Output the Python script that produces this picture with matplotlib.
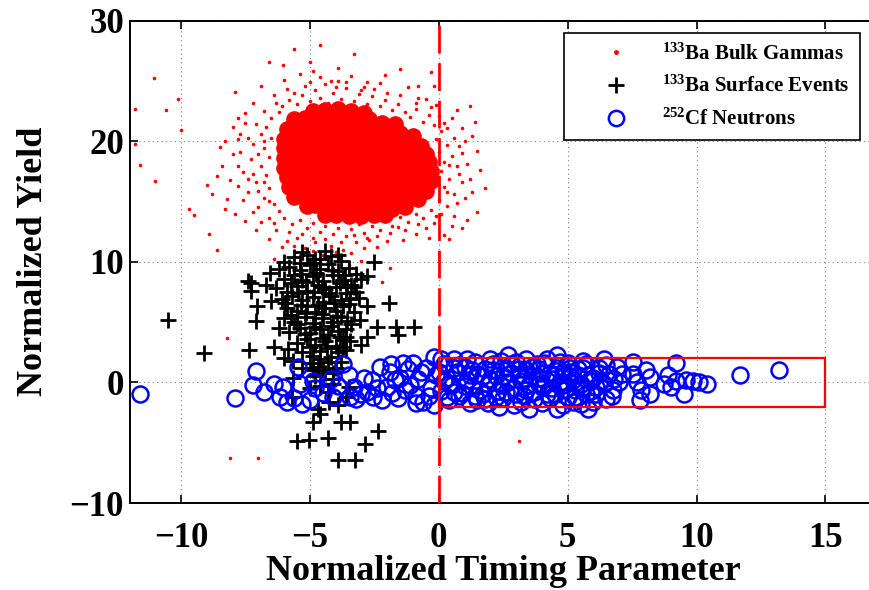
#! /usr/bin/env python3
#
# Pulse-shape discrimination scatter: normalized yield vs timing parameter

import matplotlib

matplotlib.use("Agg")
import matplotlib.pyplot as plt
from matplotlib.lines import Line2D
from matplotlib.patches import Rectangle

# 133Ba bulk gammas: dense core of the cloud (drawn with fat dots so it reads solid)
gamma_core = [
    (-4.9, 22.5), (-4.4, 22.6), (-3.9, 22.7), (-3.4, 22.5), (-2.9, 22.3),
    (-5.6, 21.8), (-5.2, 21.9), (-4.7, 21.7), (-4.2, 21.9), (-3.7, 21.8), (-3.2, 21.6),
    (-2.7, 21.8), (-2.2, 21.5), (-1.7, 21.4),
    (-5.9, 21.0), (-5.5, 21.1), (-5.0, 20.9), (-4.5, 21.0), (-4.0, 21.1), (-3.5, 20.9),
    (-3.0, 21.0), (-2.5, 20.8), (-2.0, 20.9), (-1.5, 20.7), (-1.0, 20.4),
    (-6.0, 20.2), (-5.7, 20.3), (-5.2, 20.1), (-4.7, 20.2), (-4.2, 20.3), (-3.7, 20.1),
    (-3.2, 20.2), (-2.7, 20.0), (-2.2, 20.1), (-1.7, 19.9), (-1.2, 20.0), (-0.7, 19.6),
    (-6.0, 19.4), (-5.8, 19.5), (-5.3, 19.3), (-4.8, 19.4), (-4.3, 19.5), (-3.8, 19.3),
    (-3.3, 19.4), (-2.8, 19.2), (-2.3, 19.3), (-1.8, 19.1), (-1.3, 19.2), (-0.8, 19.0),
    (-0.5, 18.9),
    (-6.0, 18.6), (-5.8, 18.7), (-5.3, 18.5), (-4.8, 18.6), (-4.3, 18.7), (-3.8, 18.5),
    (-3.3, 18.6), (-2.8, 18.4), (-2.3, 18.5), (-1.8, 18.3), (-1.3, 18.4), (-0.8, 18.2),
    (-0.4, 18.3),
    (-6.0, 17.8), (-5.7, 17.9), (-5.2, 17.7), (-4.7, 17.8), (-4.2, 17.9), (-3.7, 17.7),
    (-3.2, 17.8), (-2.7, 17.6), (-2.2, 17.7), (-1.7, 17.5), (-1.2, 17.6), (-0.7, 17.4),
    (-0.3, 17.5),
    (-5.9, 17.0), (-5.6, 17.1), (-5.1, 16.9), (-4.6, 17.0), (-4.1, 17.1), (-3.6, 16.9),
    (-3.1, 17.0), (-2.6, 16.8), (-2.1, 16.9), (-1.6, 16.7), (-1.1, 16.8), (-0.6, 16.6),
    (-0.3, 16.7),
    (-5.8, 16.2), (-5.5, 16.3), (-5.0, 16.1), (-4.5, 16.2), (-4.0, 16.3), (-3.5, 16.1),
    (-3.0, 16.2), (-2.5, 16.0), (-2.0, 16.1), (-1.5, 15.9), (-1.0, 16.0), (-0.5, 15.9),
    (-5.6, 15.4), (-5.3, 15.5), (-4.8, 15.3), (-4.3, 15.4), (-3.8, 15.5), (-3.3, 15.3),
    (-2.8, 15.4), (-2.3, 15.2), (-1.8, 15.3), (-1.3, 15.1), (-0.8, 15.2),
    (-5.1, 14.6), (-4.8, 14.7), (-4.3, 14.5), (-3.8, 14.6), (-3.3, 14.7), (-2.8, 14.5),
    (-2.3, 14.6), (-1.8, 14.4), (-1.3, 14.5),
    (-4.4, 13.9), (-4.0, 13.9), (-3.5, 13.8), (-3.0, 13.8), (-2.5, 13.9), (-2.1, 13.9),
]

# 133Ba bulk gammas: sparser halo and outliers around the core
gamma_halo = [
    (-6.1, 22.9), (-5.8, 23.4), (-5.5, 23.1), (-5.3, 23.8), (-5.0, 23.3), (-4.8, 24.2),
    (-4.6, 23.6), (-4.3, 23.2), (-4.1, 24.0), (-3.8, 23.5), (-3.6, 24.4), (-3.3, 23.3),
    (-3.1, 23.9), (-2.8, 23.1), (-2.6, 23.7), (-2.3, 22.9), (-2.1, 23.4), (-1.8, 22.6),
    (-1.6, 23.1), (-1.3, 22.4), (-1.1, 22.0), (-0.9, 22.7), (-0.6, 21.6), (-0.4, 22.2),
    (-5.2, 24.6), (-4.4, 24.7), (-3.9, 25.0), (-2.9, 24.5), (-6.4, 23.8), (-5.9, 24.3),
    (-6.5, 21.9), (-6.7, 21.2), (-6.9, 20.6), (-6.5, 20.3), (-7.2, 19.8), (-6.8, 19.4),
    (-6.6, 18.7), (-7.3, 18.5), (-6.9, 17.9), (-7.6, 17.4), (-6.7, 17.2), (-7.1, 16.6),
    (-6.6, 16.1), (-7.4, 15.8), (-6.8, 15.3), (-6.4, 14.8), (-7.0, 14.5), (-6.2, 14.2),
    (-7.8, 16.3), (-8.0, 18.9), (-7.7, 20.6), (-7.5, 21.5), (-8.2, 15.2), (-7.9, 14.0),
    (-6.0, 13.6), (-5.7, 13.1), (-5.4, 13.5), (-5.1, 12.8), (-4.9, 13.2), (-4.6, 12.5),
    (-4.4, 13.0), (-4.1, 12.3), (-3.9, 12.8), (-3.6, 12.1), (-3.4, 12.7), (-3.1, 13.1),
    (-2.9, 12.4), (-2.6, 13.0), (-2.3, 12.6), (-2.1, 13.4), (-1.8, 13.0), (-1.5, 13.7),
    (-1.2, 13.3), (-0.9, 14.0), (-0.6, 13.6), (-5.5, 12.0), (-4.8, 11.6), (-4.2, 11.3),
    (-3.7, 11.0), (-3.2, 11.6), (-2.7, 11.8), (-5.2, 11.1), (-4.5, 10.6), (-3.9, 10.3),
    (-2.4, 11.2), (-6.3, 12.6), (-5.9, 11.7),
    (-0.2, 21.3), (0.1, 20.8), (-0.1, 20.2), (0.3, 19.7), (0.0, 19.1), (0.5, 18.8),
    (0.2, 18.3), (0.7, 17.9), (0.1, 17.5), (0.4, 16.9), (0.9, 16.6), (0.2, 16.2),
    (0.6, 15.6), (0.0, 15.1), (0.3, 14.6), (-0.3, 14.3), (0.8, 19.6), (1.1, 18.1),
    (1.0, 15.3), (0.5, 21.9), (1.3, 20.4), (1.2, 16.9), (0.6, 13.8), (0.9, 21.1),
    (-6.2, 22.4), (-0.3, 22.8), (-0.8, 23.6), (-6.6, 13.6), (-0.2, 13.2),
    (-6.8, 22.5), (-6.3, 23.2), (-5.6, 24.0), (-5.0, 24.9), (-4.6, 25.3), (-4.0, 24.5),
    (-3.4, 25.4), (-3.0, 24.2), (-2.5, 24.3), (-2.0, 24.0), (-1.5, 23.8), (-1.2, 24.5),
    (-0.9, 23.2), (-0.5, 23.5), (-0.1, 23.0), (-6.0, 25.1), (-4.9, 25.8), (-3.9, 26.1),
    (-2.1, 25.5), (-1.5, 26.0), (-6.9, 24.6), (-7.2, 23.2),
    (-7.1, 21.4), (-6.8, 20.0), (-7.4, 20.3), (-7.0, 18.9), (-7.7, 19.1), (-7.2, 17.3),
    (-7.8, 17.9), (-6.8, 16.6), (-7.4, 16.9), (-7.0, 15.9), (-7.6, 15.1), (-6.6, 15.0),
    (-7.2, 14.1), (-8.4, 17.9), (-8.1, 16.8), (-8.5, 19.5), (-8.0, 21.2), (-8.8, 15.6),
    (-8.3, 14.4), (-6.9, 13.3),
    (-6.4, 13.2), (-5.8, 12.5), (-5.3, 12.3), (-4.9, 12.0), (-4.4, 11.9), (-3.8, 11.6),
    (-3.3, 12.2), (-2.8, 12.0), (-2.4, 12.1), (-1.9, 12.4), (-1.6, 12.9), (-1.3, 12.6),
    (-0.8, 13.1), (-0.5, 12.8), (-0.1, 13.8), (-6.1, 11.2), (-5.6, 11.3), (-4.0, 10.8),
    (-3.4, 10.7), (-2.9, 11.1), (-2.0, 11.7), (-1.4, 11.8), (-0.9, 12.3), (-4.9, 10.9),
    (-5.3, 10.2), (-3.5, 9.7), (-6.6, 11.9), (-7.1, 12.6), (-7.5, 13.4),
    (0.2, 21.5), (0.0, 22.1), (0.6, 20.3), (0.9, 19.0), (0.4, 18.0), (0.8, 17.3),
    (0.3, 15.8), (0.7, 14.9), (0.1, 14.0), (0.5, 13.0), (1.3, 15.8), (1.5, 19.2),
    (1.0, 20.0), (1.4, 21.6), (1.8, 16.1), (0.2, 12.2), (-0.4, 12.0), (1.1, 13.5),
    (0.7, 22.6),
    (-11.8, 22.7), (-11.05, 25.2), (-10.6, 22.6), (-10.1, 23.5), (-11.8, 19.8),
    (-11.6, 18.0), (-11.0, 16.7), (-10.0, 20.9), (-7.9, 24.1), (-7.8, 21.9), (-7.5, 22.3),
    (-9.7, 14.4), (-9.5, 13.9), (-9.0, 16.4), (-8.6, 17.1), (-8.9, 12.3), (-8.6, 11.0),
    (-8.3, 20.0), (-7.8, 20.2), (-6.6, 26.6), (-6.05, 26.3), (-5.0, 26.6), (-5.4, 25.6),
    (-4.2, 25.0), (-3.6, 24.9), (-2.8, 24.9), (-2.3, 24.8), (-0.3, 25.7), (-0.8, 24.6),
    (-0.2, 24.6), (0.3, 21.1), (-5.6, 27.6), (-4.6, 28.0), (-3.3, 27.2),
    (0.9, 12.8), (1.5, 14.1), (0.4, 11.9), (1.2, 22.9), (1.6, 17.6),
    (-5.0, 9.8), (-3.0, 10.1), (-1.9, 9.5), (-6.4, 10.2), (-2.2, 8.3),
    (-8.1, -6.3), (3.1, -4.9), (-8.2, 3.7), (-7.0, -6.3),
]

# 133Ba surface events
surface = [
    (-10.5, 5.2), (-9.1, 2.4), (-7.35, 2.7), (-7.4, 8.4), (-7.3, 8.2), (-7.3, 7.6),
    (-7.1, 5.1), (-7.05, 6.3), (-6.55, 9.1), (-6.5, 6.75), (-6.4, 2.9), (-6.2, 4.5),
    (-6.0, 2.0), (-5.65, 0.4), (-5.7, -1.2), (-5.3, 10.8), (-4.9, -3.3), (-4.7, -2.2),
    (-5.5, -4.9), (-5.05, -4.8), (-4.3, -4.6), (-4.25, -1.6), (-3.9, -6.4), (-3.25, -6.4),
    (-3.8, -3.3), (-3.45, -3.3), (-2.85, -5.1), (-2.35, -4.0), (-3.6, -1.2), (-3.5, -0.4),
    (-4.1, -0.1), (-2.5, 9.95), (-2.8, 8.8), (-1.95, 6.6), (-1.65, 4.6), (-1.6, 3.9),
    (-0.95, 4.6), (-2.4, 4.55), (-3.0, 3.1), (-2.8, 3.8), (-3.05, 5.2), (-2.8, 6.3),
    (-3.2, 7.5), (-3.7, 2.9), (-3.45, 3.4), (-4.9, 1.0), (-4.1, 0.75), (-5.85, 2.8),
    (-5.65, 1.8),
    (-5.6, 10.4), (-5.1, 10.6), (-4.6, 10.2), (-4.2, 10.5), (-3.8, 10.1), (-4.9, 9.9),
    (-6.2, 9.4), (-5.8, 9.6), (-5.4, 9.3), (-5.0, 9.7), (-4.6, 9.4), (-4.3, 9.8),
    (-3.9, 9.2), (-3.5, 9.5), (-3.2, 9.0),
    (-6.0, 8.6), (-5.6, 8.9), (-5.3, 8.5), (-4.9, 8.8), (-4.5, 8.4), (-4.1, 8.9),
    (-3.7, 8.5), (-3.4, 8.1), (-3.0, 8.6),
    (-6.3, 7.8), (-5.9, 7.5), (-5.5, 8.0), (-5.1, 7.6), (-4.7, 8.1), (-4.4, 7.7),
    (-4.0, 7.9), (-3.6, 7.4), (-3.3, 7.9),
    (-6.1, 6.9), (-5.7, 7.2), (-5.3, 6.8), (-4.9, 7.1), (-4.5, 6.7), (-4.2, 7.2),
    (-3.8, 6.8), (-3.5, 6.5), (-3.1, 7.0),
    (-5.9, 6.2), (-5.5, 5.9), (-5.1, 6.3), (-4.8, 5.8), (-4.4, 6.2), (-4.0, 5.9),
    (-3.7, 6.3), (-3.3, 5.8),
    (-6.0, 5.3), (-5.6, 5.0), (-5.2, 5.4), (-4.9, 4.9), (-4.5, 5.3), (-4.1, 5.0),
    (-3.8, 5.4), (-3.4, 4.8),
    (-5.8, 4.2), (-5.4, 4.5), (-5.0, 4.1), (-4.6, 4.4), (-4.3, 3.9), (-3.9, 4.3),
    (-3.6, 3.8),
    (-5.5, 3.3), (-5.1, 3.6), (-4.8, 3.1), (-4.4, 3.4), (-4.0, 3.0), (-3.7, 3.5),
    (-5.3, 2.5), (-4.9, 2.2), (-4.6, 2.6), (-4.2, 2.1), (-3.9, 2.5),
    (-5.0, 1.6), (-4.7, 1.3), (-4.3, 1.7), (-4.0, 1.2),
    (-4.8, 0.5), (-4.4, 0.8), (-4.1, 0.3),
    (-4.6, -0.3), (-4.3, -0.8), (-5.0, -0.5), (-3.9, -1.9), (-4.6, -2.6),
    (-5.35, 9.0), (-4.75, 9.1), (-4.15, 9.3), (-3.65, 8.9), (-5.75, 8.2), (-5.15, 8.3),
    (-4.55, 7.9), (-3.85, 8.2), (-5.45, 7.4), (-4.85, 7.5), (-4.25, 7.45), (-3.55, 7.9),
    (-5.95, 6.6), (-5.35, 6.45), (-4.7, 6.45), (-4.05, 6.6), (-3.45, 6.9), (-5.75, 5.6),
    (-5.15, 5.75), (-4.55, 5.65), (-3.95, 5.5), (-3.55, 5.1), (-5.5, 4.8), (-4.8, 4.6),
    (-4.2, 4.7), (-3.6, 4.4), (-5.2, 4.0), (-4.5, 3.7), (-3.85, 3.75), (-5.0, 2.9),
    (-4.35, 2.85), (-3.6, 2.7), (-4.6, 1.9), (-4.5, 1.0), (-5.3, 1.2), (-3.8, 1.7),
    (-4.8, 10.2), (-4.4, 10.9), (-3.9, 10.6), (-5.4, 9.9), (-6.0, 10.0), (-6.7, 8.1),
]

# 252Cf neutrons
neutrons = [
    (-11.6, -0.95), (-7.9, -1.3), (-7.1, 0.95), (-7.2, -0.25), (-6.4, -0.15), (-6.05, -0.4),
    (-6.15, -1.2), (-5.9, -1.65), (-5.45, 1.3), (-5.3, -1.8), (-5.4, -0.1), (-4.9, 0.15),
    (-4.8, -0.5), (-4.2, 0.3), (-4.1, -1.2), (-3.7, 1.5), (-3.3, -0.4), (-3.45, -1.2),
    (-2.8, -0.8), (-2.55, -1.2), (-2.3, 1.3), (-1.85, 1.55), (-2.0, -0.4), (-1.0, 1.6),
    (-0.2, 2.1), (-0.2, -1.9),
    (-5.6, -1.3), (-5.0, -1.5), (-4.5, -0.9), (-3.9, -0.3), (-3.0, -1.0), (-2.2, -1.5),
    (-1.6, -1.3), (-1.3, -0.6), (-0.9, -1.1), (-0.6, -1.6), (-1.5, 0.4), (-1.2, 1.1),
    (-0.8, 0.3), (-0.5, 1.2), (-0.3, -0.5), (-0.1, 0.6), (-2.6, 0.2), (-1.9, 0.9),
    (-6.8, -0.8), (-3.5, 0.6),
    (-2.4, -0.5), (-1.8, -0.9), (-1.1, -0.2), (-0.7, 0.9), (-0.4, -1.1), (-1.4, 1.6),
    (-2.9, 0.4), (-3.2, -1.4), (-1.7, 0.2), (-0.9, -1.7),
    (0.2, 1.5), (0.3, 0.4), (0.1, -0.7), (0.4, -1.5),
    (0.6, 1.9), (0.7, 0.9), (0.5, -0.2), (0.8, -1.1),
    (1.0, 1.3), (1.1, 0.2), (0.9, -0.9), (1.2, -1.7),
    (1.4, 1.7), (1.5, 0.7), (1.3, -0.4), (1.5, -1.5),
    (1.8, 1.1), (1.9, -0.1), (1.7, -1.0), (2.0, 1.9),
    (2.2, 0.5), (2.3, -0.7), (2.1, 1.5), (2.35, -2.05),
    (2.6, 1.2), (2.7, 0.0), (2.5, -1.3), (2.7, 2.25),
    (3.0, 1.7), (3.1, 0.6), (2.9, -0.5), (3.2, -1.6),
    (3.4, 1.0), (3.5, -0.2), (3.3, -1.1), (3.5, -2.2),
    (3.8, 1.5), (3.9, 0.4), (3.7, -0.8), (4.0, -1.7),
    (4.2, 1.9), (4.3, 0.8), (4.1, -0.3), (4.3, -1.3),
    (4.6, 2.25), (4.6, 1.2), (4.7, 0.0), (4.5, -1.0), (4.6, -2.2),
    (5.0, 1.6), (5.1, 0.5), (4.9, -0.6), (5.2, -1.6),
    (5.4, 1.1), (5.5, -0.1), (5.3, -1.2), (5.6, 1.8),
    (5.8, 0.6), (5.9, -0.7), (5.8, -2.2), (5.7, 1.5),
    (6.2, 1.2), (6.3, 0.1), (6.1, -1.0), (6.4, 1.9),
    (6.5, -1.35), (6.75, -0.65), (6.6, 0.7),
    (0.0, 0.9), (0.4, -0.1), (0.8, 1.4), (1.2, 0.6), (1.6, -0.6), (2.0, 0.3),
    (2.4, -0.2), (2.8, 0.8), (3.2, 0.1), (3.6, 0.5), (4.0, -0.4), (4.4, 0.3),
    (4.8, 0.9), (5.2, 0.2), (5.6, -0.4), (6.0, 0.4), (0.3, -1.2), (1.9, -1.7),
    (2.9, -1.9), (3.9, 1.1), (4.8, -1.9), (5.5, -1.8), (1.1, 1.9), (3.4, 1.9),
    (5.1, 1.2), (6.0, -1.6),
    (0.1, 1.9), (0.2, 0.1), (0.6, 1.2), (0.6, -0.8), (1.0, -0.3), (1.3, 1.0),
    (1.4, -1.1), (1.7, 0.5), (1.8, -1.4), (2.1, 1.0), (2.2, -1.2), (2.4, 1.8),
    (2.5, 0.5), (2.6, -0.8), (2.8, 1.5), (3.0, -1.0), (3.1, 1.1), (3.3, 0.4),
    (3.4, -0.6), (3.6, 1.3), (3.7, -1.4), (3.9, -0.1), (4.0, 0.8), (4.1, 1.6),
    (4.2, -1.0), (4.4, -0.5), (4.5, 0.6), (4.7, 1.7), (4.8, -0.2), (5.0, -1.2),
    (5.1, 0.9), (5.3, -0.6), (5.4, 0.6), (5.6, 1.2), (5.7, -1.0), (5.9, 0.1),
    (6.1, -0.4), (6.2, 0.8), (6.4, -0.1), (6.5, 1.4), (6.8, 0.3), (6.9, 1.3),
    (6.7, -1.1),
    (7.1, 0.7), (7.0, 0.0), (7.55, 1.7), (7.55, 0.7), (7.7, 0.0), (7.85, -0.65),
    (7.8, -1.5), (8.05, 1.05), (8.2, 0.45), (8.2, -0.95), (8.9, 0.6), (8.75, -0.1),
    (9.0, -0.4), (9.2, 1.6), (9.2, 0.15), (9.5, -0.95), (9.6, 0.2), (9.85, 0.15),
    (10.1, 0.0), (10.4, -0.1), (11.7, 0.6), (13.2, 1.05),
]

# signal acceptance box and timing cut
box_x = (0, 15)
box_y = (-2, 2)
timing_cut = 0

xticks = [-10, -5, 0, 5, 10, 15]
yticks = [-10, 0, 10, 20, 30]

labels = [
    "$^{133}$Ba Bulk Gammas",
    "$^{133}$Ba Surface Events",
    "$^{252}$Cf Neutrons",
]


def xy(points):
    return [p[0] for p in points], [p[1] for p in points]


def main() -> None:
    plt.rcParams["font.family"] = "serif"
    plt.rcParams["font.serif"] = ["Liberation Serif", "DejaVu Serif"]
    plt.rcParams["font.weight"] = "bold"
    plt.rcParams["mathtext.fontset"] = "custom"
    plt.rcParams["mathtext.rm"] = "Liberation Serif:bold"
    plt.rcParams["mathtext.default"] = "rm"

    fig = plt.figure(figsize=(8.69, 5.90), dpi=100)
    ax = fig.add_axes([129.5 / 869, 87 / 590, (877 - 129.5) / 869, 482.5 / 590])

    gx, gy = xy(gamma_core)
    ax.plot(gx, gy, "o", color="red", markersize=12, markeredgewidth=0, zorder=2)
    hx, hy = xy(gamma_halo)
    ax.plot(hx, hy, "o", color="red", markersize=2.6, markeredgewidth=0, zorder=2)

    sx, sy = xy(surface)
    ax.plot(sx, sy, "+", color="black", markersize=11, markeredgewidth=2.0, zorder=3)

    nx, ny = xy(neutrons)
    ax.plot(nx, ny, "o", markerfacecolor="none", markeredgecolor="blue",
            markersize=11.5, markeredgewidth=1.8, zorder=4)

    ax.axvline(timing_cut, color="red", lw=2.0, linestyle=(0, (10, 3.5)), zorder=5)
    ax.add_patch(Rectangle((box_x[0], box_y[0]), box_x[1] - box_x[0], box_y[1] - box_y[0],
                           fill=False, edgecolor="red", lw=1.6, zorder=5))

    ax.set_xlim(-12, 17)
    ax.set_ylim(-10, 30)
    ax.set_xticks(xticks)
    ax.set_yticks(yticks)
    ax.grid(True, color="0.5", linestyle=(0, (1, 3)), linewidth=0.8)
    ax.set_axisbelow(True)
    ax.tick_params(direction="in", top=True, right=True, length=6, width=1.2, labelsize=25)
    ax.tick_params(axis="x", pad=14)
    ax.tick_params(axis="y", pad=4)
    for s in ax.spines.values():
        s.set_linewidth(1.4)
    ax.set_xlabel("Normalized Timing Parameter", fontsize=26, fontweight="bold", labelpad=0)
    ax.set_ylabel("Normalized Yield", fontsize=26, fontweight="bold", labelpad=14)

    handles = [
        Line2D([], [], ls="none", marker="o", color="red", markersize=3.5, markeredgewidth=0),
        Line2D([], [], ls="none", marker="+", color="black", markersize=11, markeredgewidth=2.0),
        Line2D([], [], ls="none", marker="o", markerfacecolor="none", markeredgecolor="blue",
               markersize=11, markeredgewidth=1.8),
    ]
    leg = ax.legend(handles, labels, loc="upper right", bbox_to_anchor=(860 / 869, 1 - 33 / 590),
                    bbox_transform=fig.transFigure, fancybox=False, framealpha=1,
                    edgecolor="black", prop={"size": 15, "weight": "bold"},
                    handlelength=4.0, handletextpad=0.2, labelspacing=0.55, borderpad=0.5,
                    borderaxespad=0)
    leg.get_frame().set_linewidth(1.2)

    fig.savefig("out.png", dpi=100)
    plt.close(fig)


if __name__ == "__main__":
    main()
